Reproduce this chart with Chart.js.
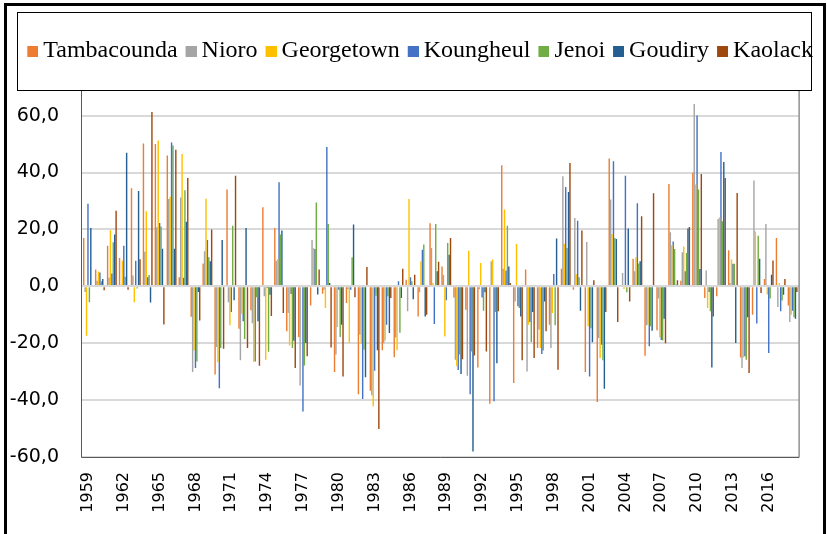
<!DOCTYPE html>
<html lang="fr">
<head>
<meta charset="utf-8">
<title>Anomalies pluviométriques</title>
<script src="https://cdn.jsdelivr.net/npm/chart.js@4.4.1/dist/chart.umd.min.js"></script>
<style>
    html, body { margin: 0; padding: 0; background: #fff; }
    #wrap { position: relative; width: 827px; height: 534px; }
</style>
</head>
<body>
<div id="wrap"><canvas id="rainChart" width="827" height="534"></canvas></div>
<script>
// années (catégories)
const years = [
    "1959", "1960", "1961", "1962", "1963", "1964", "1965", "1966", "1967", "1968",
    "1969", "1970", "1971", "1972", "1973", "1974", "1975", "1976", "1977", "1978",
    "1979", "1980", "1981", "1982", "1983", "1984", "1985", "1986", "1987", "1988",
    "1989", "1990", "1991", "1992", "1993", "1994", "1995", "1996", "1997", "1998",
    "1999", "2000", "2001", "2002", "2003", "2004", "2005", "2006", "2007", "2008",
    "2009", "2010", "2011", "2012", "2013", "2014", "2015", "2016", "2017", "2018"
];
const xTickLabels = ["1959", "1962", "1965", "1968", "1971", "1974", "1977", "1980", "1983", "1986",
    "1989", "1992", "1995", "1998", "2001", "2004", "2007", "2010", "2013", "2016"];
const yTickValues = [-60, -40, -20, 0, 20, 40, 60];

const stationNames = ["Tambacounda", "Nioro", "Georgetown", "Koungheul", "Jenoi", "Goudiry", "Kaolack"];
const stationColors = ["#ED7D31", "#A5A5A5", "#FFC000", "#4472C4", "#70AD47", "#255E91", "#9E480E"];

// écarts (%) par station
const tambacounda = [17, 5.9, 14.3, 10, 34.5, 50.2, 50, 46, 3.2, -10.7, 8, -31, 34, -14.9, -8.4, 27.8, 20.5, -15.8, -17.8, -6.7,
    -2.6, -30.1, -5.9, -37.9, -36.7, -22.5, -24.9, 2.3, -10.6, 22.2, 7, -3.9, -8.2, -28.5, -41.3, 42.6, -34, 5.9, -21.7, -13.5,
    6.2, -1.2, -30.1, -40.7, 44.9, 0.4, 9.7, -24.4, -15.4, 36, 2, 39.9, -4.1, -3.5, 12.7, -25, -10, 2.6, 17, -6.7];
const nioro = [-2, 2, 3, 0.6, 3.8, 12.2, 20.8, 30.7, 31.2, -30.1, 12.3, -21.3, -5.6, -26, -13, -3.5, 9, -9.4, -34.9, 16.3,
    -1.2, -24, -1, -17, -38.3, -20, -18, -8.8, -2.1, 13.5, 4, -25.8, -31.4, -1, 8.8, 6.2, -5.3, -29.9, -15.2, -21.7,
    38.7, 24, 15.6, -18.2, 30.5, 4.7, 5.3, -13.7, -4.3, 19, 12, 64.1, 5.6, 23.7, 1.2, -28.7, 37.2, 21.9, -7.3, -12.5];
const georgetown = [-17.4, 5.2, 19.7, 9, -5.6, 26.4, 51.3, 31.5, 46.5, -22.6, 30.8, -26.7, -13.7, -9.6, -26.5, -25.8, 9.6, -20.8, 0.6, 13.5,
    -7.6, -14.3, -19.9, -20.3, -42.2, -19, -22.5, 30.7, 8.8, 1.2, -17.6, -28.1, 12.5, 8.2, 9.4, 27, 14.9, -13.5, -21.7, -9.4,
    15, 4.3, -14, -25.2, 18.4, -0.9, 10.2, -13.5, -17.9, 14.4, 14, 35.8, -7.6, 24.3, 9.4, -25, 19.3, -2.9, 1.2, -10];
const koungheul = [29, 4.9, 4.5, 14.3, 9, 3.2, 22.3, 50.6, 3, -28.7, 16.3, -35.8, -9, -12.3, -26.4, -0.6, 36.6, -2.7, -44, 13.1,
    49, -1.2, -1.2, -39.6, -29.7, -13.5, 1.8, 3.2, 12.9, -13.2, -4.9, -29.4, -37.9, -3.9, -40.4, 5.6, -7, -12.5, -23.8, 4.3,
    34.9, 23.1, -31.7, -20.5, 44, 38.9, 29.2, -21.1, -18.9, 15.8, 5.3, 60.1, -2, 47.2, 7.9, -24.6, -13.1, -23.4, -8.8, -8.6];
const jenoi = [-5.6, 1.8, 15.5, 3.4, -0.8, 4, 21, 49.5, 33.8, -26.4, 10.2, -21.7, 21.3, -18.5, -3.8, -23, 18.2, -21.7, -27.8, 29.5,
    21.9, -17.8, 10.2, -22.3, -3.3, -3.5, -16.3, 1.8, 14.7, 21.9, 15.2, -24, -22.9, -8.6, -9, 21.3, -7.6, -19.6, -22.6, -13.7,
    13.5, 3.2, -14.7, -26, 17, -2.1, 8, -14, -19, 13.1, 11.7, 34, -8.8, 22.9, 7.9, -25.8, 17.8, -4.3, -5, -10.9];
const goudiry = [20.5, 2.6, 18.2, 47, 33.5, -5.7, 13.2, 13.2, 22.7, -2, 8.8, 16.3, -4.9, 20.5, -12.3, -3, 19.6, -19.1, -19.9, -2.9,
    1.2, -13.5, 21.7, -32, -22.5, -16.4, -4.1, -4.5, -10.6, 5.3, 11.1, -30.8, -58.1, -2.1, -27, 7, -10.6, -9, -5.3, 16.8,
    33.2, -8.6, -19.7, -36, 16.6, 20.3, 8.8, -15.6, -11.4, 0.6, 20.3, 6.1, -28.5, 43.7, -19.9, -10.9, 9.7, 4.1, -3, -11.4];
const kaolack = [0.5, -1.4, 26.6, -1.2, 9.5, 61.3, -13.4, 48, 38.1, -12, 20, -21.9, 38.9, -21.7, -27.9, -10.4, -9.4, -28.7, -24.6, 5.9,
    -21.5, -31.7, -3.8, 6.8, -50.2, -4.1, 6.2, 4.1, -10, 8.6, 17, -25.6, -24.3, -22.9, -8.8, 1.2, -26, -25.2, -15.8, -29.3,
    43.4, 19.6, 2.1, -9, -12.5, -5.3, 24.6, 32.7, -20, 2.1, 20.9, 39.5, -10.6, 38.1, 32.8, -30.5, -2.3, 9.1, 2.6, -2];

const stationValues = [tambacounda, nioro, georgetown, koungheul, jenoi, goudiry, kaolack];

document.addEventListener("DOMContentLoaded", () => {
    const ctx = document.getElementById("rainChart").getContext("2d");

    // petit carré de légende (décalé pour coller au texte)
    function makeSwatch(color) {
        const c = document.createElement("canvas");
        c.width = 15;
        c.height = 11;
        const g = c.getContext("2d");
        g.fillStyle = color;
        g.fillRect(4, 0, 11, 11);
        return c;
    }

    // cadres : bordure extérieure, boîte de légende, zone de tracé
    const framePlugin = {
        id: "frames",
        afterDatasetsDraw(chart) {
            const c = chart.ctx;
            const area = chart.chartArea;
            const zeroY = chart.scales.y.getPixelForValue(0);
            c.save();
            c.strokeStyle = "#d9d9d9";
            c.lineWidth = 2;
            c.beginPath();
            c.moveTo(area.left, Math.round(zeroY));
            c.lineTo(area.right, Math.round(zeroY));
            c.stroke();
            c.restore();
        },
        afterDraw(chart) {
            const c = chart.ctx;
            const area = chart.chartArea;
            c.save();
            c.strokeStyle = "#000";
            c.lineWidth = 3;
            c.strokeRect(5.5, 4.5, 819, 545);

            c.lineWidth = 1;
            c.strokeRect(17.5, 12.5, 794, 78);

            c.strokeStyle = "#595959";
            c.beginPath();
            c.moveTo(81.5, 91);
            c.lineTo(81.5, area.bottom + 0.5);
            c.lineTo(area.right + 0.5, area.bottom + 0.5);
            c.lineTo(area.right + 0.5, 91);
            c.stroke();
            c.restore();
        }
    };

    const datasets = stationNames.map((name, i) => ({
        label: name,
        data: stationValues[i],
        backgroundColor: stationColors[i],
        borderWidth: 0,
        barPercentage: 1.0,
        categoryPercentage: 0.83
    }));

    new Chart(ctx, {
        type: "bar",
        data: {
            labels: years,
            datasets: datasets
        },
        options: {
            responsive: false,
            animation: false,
            layout: {
                padding: { top: 28, right: 3, left: 0, bottom: 0 }
            },
            plugins: {
                legend: {
                    position: "top",
                    align: "end",
                    labels: {
                        usePointStyle: true,
                        boxWidth: 1,
                        boxHeight: 11,
                        padding: 11,
                        color: "#000",
                        font: { family: "'Liberation Serif', 'Times New Roman', serif", size: 24 },
                        generateLabels(chart) {
                            const base = Chart.defaults.plugins.legend.labels.generateLabels(chart);
                            return base.map((item, i) => ({ ...item, pointStyle: makeSwatch(stationColors[i]) }));
                        }
                    }
                },
                tooltip: { enabled: false }
            },
            scales: {
                x: {
                    grid: { display: false, drawTicks: false },
                    border: { display: false },
                    ticks: {
                        autoSkip: false,
                        minRotation: 90,
                        maxRotation: 90,
                        padding: 15,
                        color: "#000",
                        font: { family: "'DejaVu Sans', sans-serif", size: 16 },
                        callback: function (value, index) {
                            const label = years[index];
                            return xTickLabels.includes(label) ? label : "";
                        }
                    },
                    afterFit(scale) {
                        scale.height = 77;
                    }
                },
                y: {
                    min: -60,
                    max: 75,
                    grid: { color: "#d9d9d9", lineWidth: 2, drawTicks: false },
                    border: { display: false },
                    ticks: {
                        stepSize: 20,
                        padding: 23,
                        color: "#000",
                        font: { family: "'DejaVu Sans', sans-serif", size: 19 },
                        callback: (value) => value.toFixed(1).replace(".", ",")
                    },
                    afterBuildTicks(scale) {
                        scale.ticks = yTickValues.map((v) => ({ value: v }));
                    },
                    afterFit(scale) {
                        scale.width = 82;
                    }
                },
                y2: {
                    position: "right",
                    grid: { display: false, drawTicks: false },
                    border: { display: false },
                    ticks: { display: false },
                    afterFit(scale) {
                        scale.width = 18.5;
                    }
                }
            }
        },
        plugins: [framePlugin]
    });
});
</script>
</body>
</html>
